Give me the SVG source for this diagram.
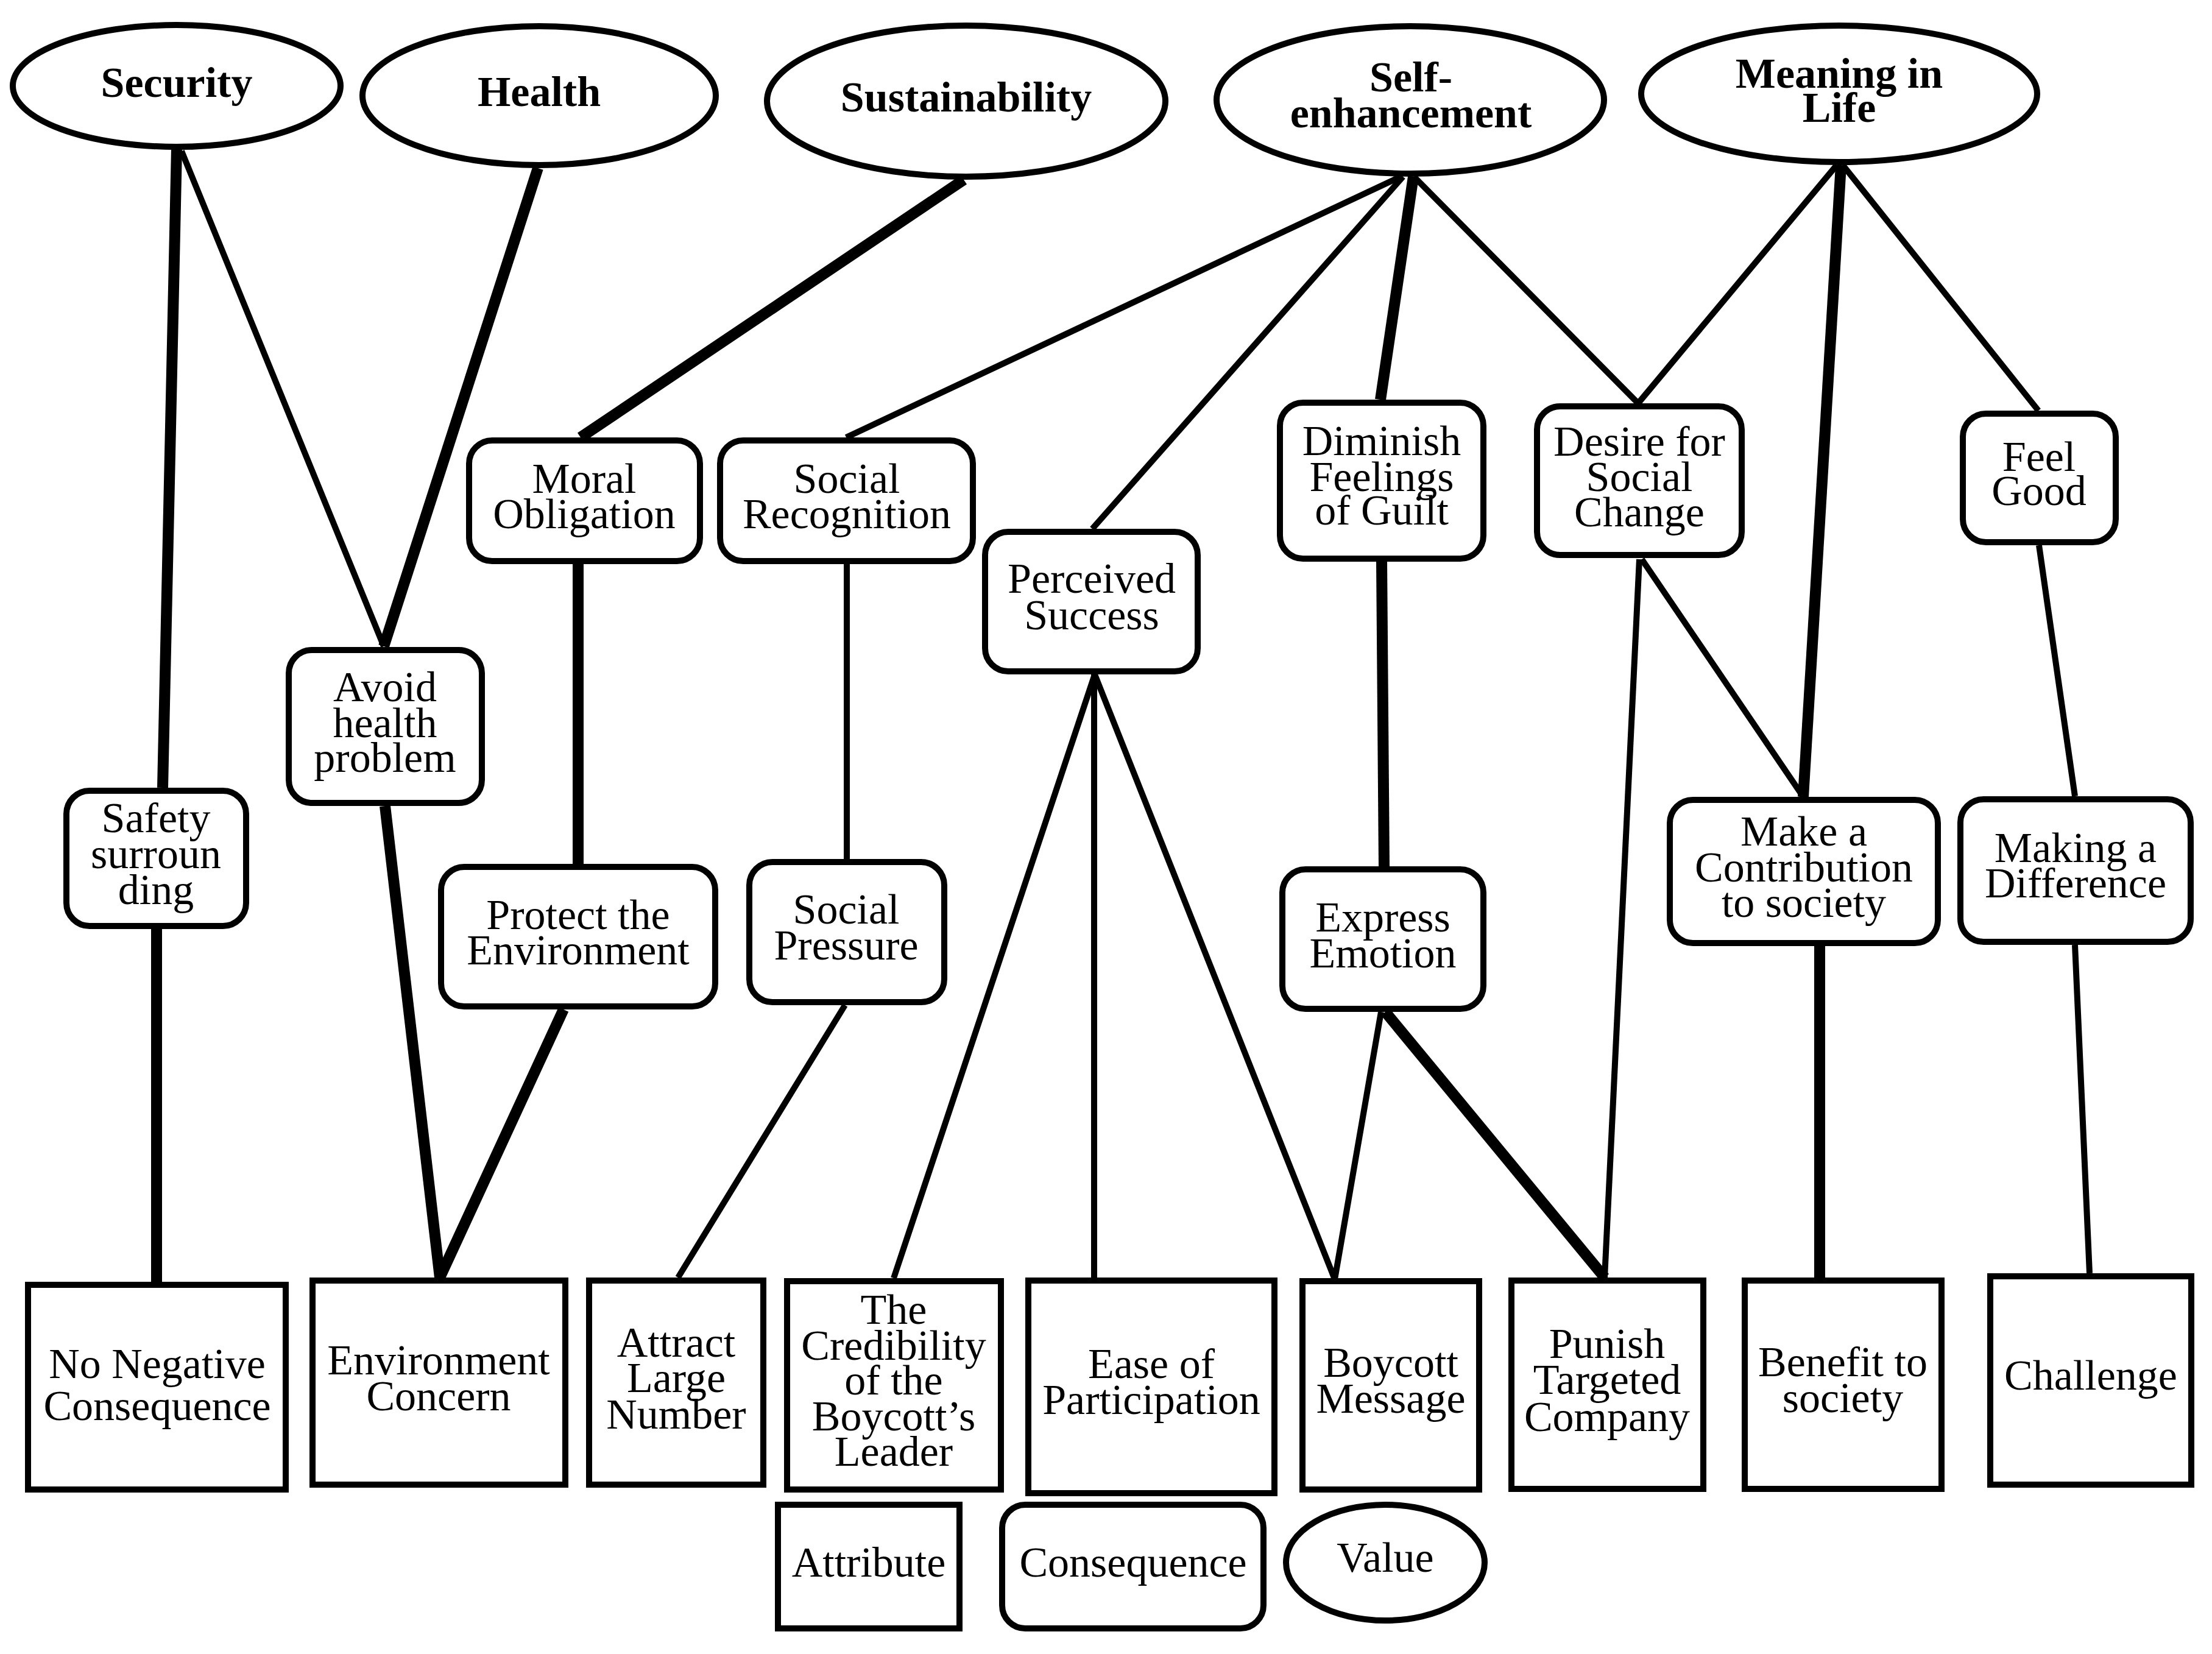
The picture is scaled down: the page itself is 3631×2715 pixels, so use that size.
<svg xmlns="http://www.w3.org/2000/svg" width="3631" height="2715" viewBox="0 0 3631 2715">
<style>
.bg{fill:#fff}
.shape{fill:#fff;stroke:#000;stroke-width:10}
.lbl{font-family:"Liberation Serif","Times New Roman",serif;font-size:70px;text-anchor:middle;fill:#000}
.val{font-weight:bold}
.thin{stroke:#000;stroke-width:10;fill:none}
.thick{stroke:#000;stroke-width:18;fill:none}
</style>
<rect class="bg" x="0" y="0" width="3631" height="2715"/>
<g id="connectors">
<line class="thick" x1="290" y1="245" x2="267" y2="1293"/>
<line class="thin" x1="298" y1="248" x2="630" y2="1061"/>
<line class="thick" x1="883" y1="276" x2="630" y2="1061"/>
<line class="thick" x1="1582" y1="295" x2="953" y2="718"/>
<line class="thin" x1="2299" y1="290" x2="1389" y2="718"/>
<line class="thin" x1="2303" y1="290" x2="1793" y2="868"/>
<line class="thick" x1="2320" y1="290" x2="2266" y2="656"/>
<line class="thin" x1="2321" y1="290" x2="2689" y2="662"/>
<line class="thin" x1="3015" y1="271" x2="2689" y2="662"/>
<line class="thick" x1="3022" y1="271" x2="2960" y2="1308"/>
<line class="thin" x1="3025" y1="271" x2="3346" y2="674"/>
<line class="thick" x1="949" y1="926" x2="949" y2="1418"/>
<line class="thin" x1="1390" y1="926" x2="1390" y2="1410"/>
<line class="thick" x1="2268" y1="921" x2="2272" y2="1422"/>
<line class="thin" x1="2695" y1="918" x2="2960" y2="1308"/>
<line class="thin" x1="2691" y1="918" x2="2634" y2="2097"/>
<line class="thin" x1="3347" y1="895" x2="3406" y2="1307"/>
<line class="thick" x1="632" y1="1323" x2="722" y2="2097"/>
<line class="thick" x1="925" y1="1657" x2="722" y2="2097"/>
<line class="thick" x1="257" y1="1525" x2="257" y2="2104"/>
<line class="thin" x1="1387" y1="1650" x2="1113" y2="2097"/>
<line class="thin" x1="1797" y1="1107" x2="1467" y2="2098"/>
<line class="thin" x1="1796" y1="1107" x2="1796" y2="2097"/>
<line class="thin" x1="1797" y1="1107" x2="2191" y2="2100"/>
<line class="thin" x1="2267" y1="1661" x2="2191" y2="2100"/>
<line class="thick" x1="2274" y1="1661" x2="2634" y2="2097"/>
<line class="thick" x1="2987" y1="1553" x2="2987" y2="2097"/>
<line class="thin" x1="3406" y1="1551" x2="3430" y2="2090"/>
</g>
<g id="security"><ellipse class="shape" cx="290" cy="141" rx="269" ry="100"/><text class="lbl val" x="290" y="159">Security</text></g>
<g id="health"><ellipse class="shape" cx="885" cy="157" rx="290" ry="114"/><text class="lbl val" x="885" y="174">Health</text></g>
<g id="sustainability"><ellipse class="shape" cx="1586" cy="166" rx="327" ry="124"/><text class="lbl val" x="1586" y="183">Sustainability</text></g>
<g id="self-enhancement"><ellipse class="shape" cx="2315" cy="164" rx="318" ry="121"/><text class="lbl val" x="2316" y="150">Self-</text><text class="lbl val" x="2316" y="209">enhancement</text></g>
<g id="meaning-in-life"><ellipse class="shape" cx="3019" cy="154" rx="325" ry="112"/><text class="lbl val" x="3019" y="144">Meaning in</text><text class="lbl val" x="3019" y="200">Life</text></g>
<g id="moral-obligation"><rect class="shape" x="770" y="723" width="379" height="198" rx="38"/><text class="lbl" x="959" y="809">Moral</text><text class="lbl" x="959" y="867">Obligation</text></g>
<g id="social-recognition"><rect class="shape" x="1182" y="723" width="415" height="198" rx="38"/><text class="lbl" x="1390" y="809">Social</text><text class="lbl" x="1390" y="867">Recognition</text></g>
<g id="perceived-success"><rect class="shape" x="1617" y="873" width="349" height="229" rx="38"/><text class="lbl" x="1792" y="973">Perceived</text><text class="lbl" x="1792" y="1033">Success</text></g>
<g id="diminish-guilt"><rect class="shape" x="2101" y="661" width="334" height="256" rx="38"/><text class="lbl" x="2268" y="747">Diminish</text><text class="lbl" x="2268" y="806">Feelings</text><text class="lbl" x="2268" y="861">of Guilt</text></g>
<g id="desire-social-change"><rect class="shape" x="2523" y="667" width="336" height="244" rx="38"/><text class="lbl" x="2691" y="748">Desire for</text><text class="lbl" x="2691" y="806">Social</text><text class="lbl" x="2691" y="864">Change</text></g>
<g id="feel-good"><rect class="shape" x="3222" y="679" width="251" height="211" rx="38"/><text class="lbl" x="3347" y="773">Feel</text><text class="lbl" x="3347" y="829">Good</text></g>
<g id="avoid-health-problem"><rect class="shape" x="474" y="1067" width="317" height="251" rx="38"/><text class="lbl" x="632" y="1151">Avoid</text><text class="lbl" x="632" y="1210">health</text><text class="lbl" x="632" y="1267">problem</text></g>
<g id="safety-surrounding"><rect class="shape" x="109" y="1298" width="295" height="222" rx="38"/><text class="lbl" x="256" y="1366">Safety</text><text class="lbl" x="256" y="1425">surroun</text><text class="lbl" x="256" y="1484">ding</text></g>
<g id="protect-environment"><rect class="shape" x="724" y="1423" width="450" height="229" rx="38"/><text class="lbl" x="949" y="1525">Protect the</text><text class="lbl" x="949" y="1583">Environment</text></g>
<g id="social-pressure"><rect class="shape" x="1230" y="1415" width="320" height="230" rx="38"/><text class="lbl" x="1389" y="1516">Social</text><text class="lbl" x="1389" y="1575">Pressure</text></g>
<g id="express-emotion"><rect class="shape" x="2105" y="1427" width="330" height="229" rx="38"/><text class="lbl" x="2270" y="1529">Express</text><text class="lbl" x="2270" y="1588">Emotion</text></g>
<g id="make-contribution"><rect class="shape" x="2741" y="1313" width="440" height="235" rx="38"/><text class="lbl" x="2961" y="1388">Make a</text><text class="lbl" x="2961" y="1447">Contribution</text><text class="lbl" x="2961" y="1505">to society</text></g>
<g id="making-difference"><rect class="shape" x="3218" y="1312" width="378" height="234" rx="38"/><text class="lbl" x="3407" y="1415">Making a</text><text class="lbl" x="3407" y="1473">Difference</text></g>
<g id="no-negative-consequence"><rect class="shape" x="46" y="2109" width="423" height="336"/><text class="lbl" x="258" y="2262">No Negative</text><text class="lbl" x="258" y="2331">Consequence</text></g>
<g id="environment-concern"><rect class="shape" x="513" y="2102" width="415" height="335"/><text class="lbl" x="720" y="2256">Environment</text><text class="lbl" x="720" y="2315">Concern</text></g>
<g id="attract-large-number"><rect class="shape" x="967" y="2102" width="286" height="335"/><text class="lbl" x="1110" y="2227">Attract</text><text class="lbl" x="1110" y="2285">Large</text><text class="lbl" x="1110" y="2345">Number</text></g>
<g id="credibility-leader"><rect class="shape" x="1292" y="2103" width="351" height="342"/><text class="lbl" x="1467" y="2173">The</text><text class="lbl" x="1467" y="2232">Credibility</text><text class="lbl" x="1467" y="2289">of the</text><text class="lbl" x="1467" y="2348">Boycott’s</text><text class="lbl" x="1467" y="2406">Leader</text></g>
<g id="ease-participation"><rect class="shape" x="1688" y="2102" width="404" height="349"/><text class="lbl" x="1890" y="2262">Ease of</text><text class="lbl" x="1890" y="2321">Participation</text></g>
<g id="boycott-message"><rect class="shape" x="2138" y="2103" width="290" height="342"/><text class="lbl" x="2283" y="2260">Boycott</text><text class="lbl" x="2283" y="2319">Message</text></g>
<g id="punish-company"><rect class="shape" x="2481" y="2102" width="315" height="342"/><text class="lbl" x="2638" y="2229">Punish</text><text class="lbl" x="2638" y="2288">Targeted</text><text class="lbl" x="2638" y="2349">Company</text></g>
<g id="benefit-society"><rect class="shape" x="2864" y="2102" width="323" height="342"/><text class="lbl" x="3025" y="2259">Benefit to</text><text class="lbl" x="3025" y="2318">society</text></g>
<g id="challenge"><rect class="shape" x="3267" y="2095" width="330" height="342"/><text class="lbl" x="3432" y="2281">Challenge</text></g>
<g id="legend-attribute"><rect class="shape" x="1277" y="2470" width="298" height="203"/><text class="lbl" x="1426" y="2588">Attribute</text></g>
<g id="legend-consequence"><rect class="shape" x="1645" y="2470" width="429" height="203" rx="38"/><text class="lbl" x="1860" y="2588">Consequence</text></g>
<g id="legend-value"><ellipse class="shape" cx="2274" cy="2565" rx="163" ry="95"/><text class="lbl" x="2274" y="2580">Value</text></g>
</svg>
